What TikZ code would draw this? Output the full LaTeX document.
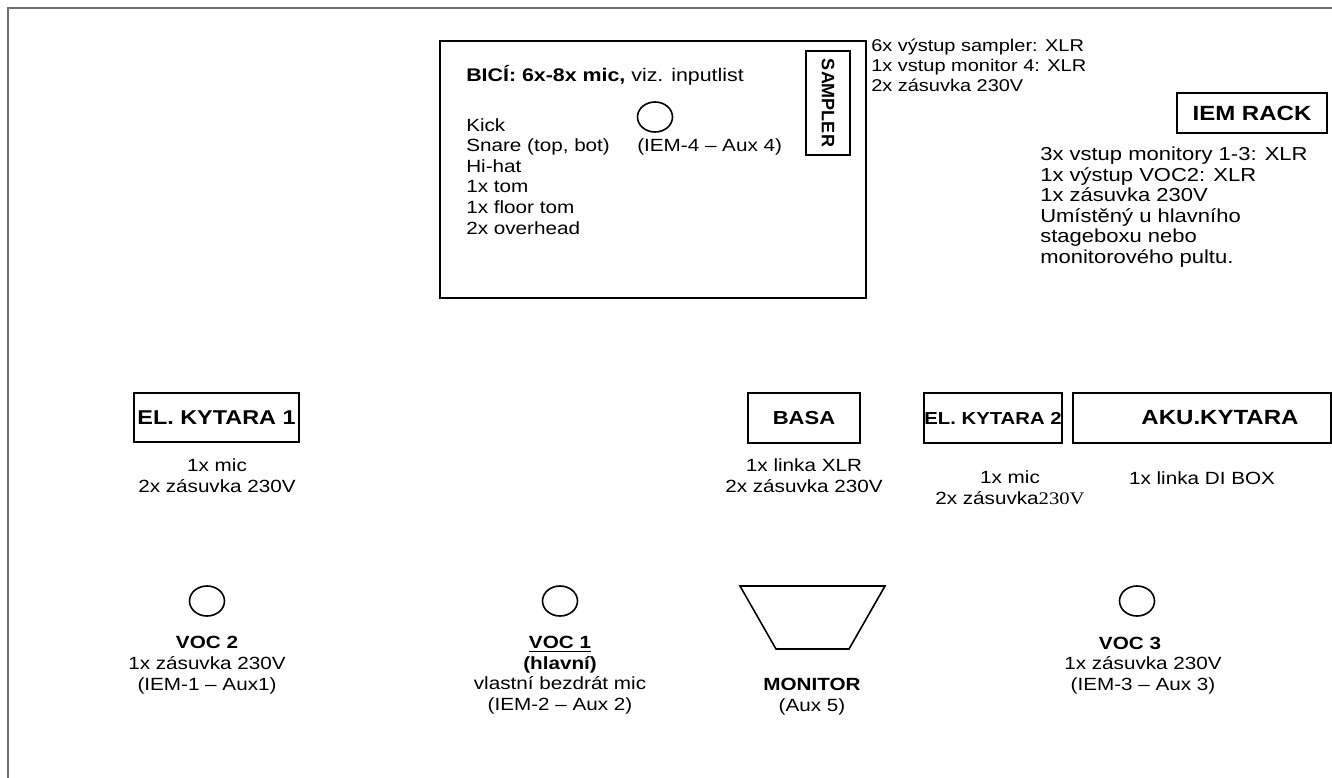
\documentclass[tikz,border=0pt]{standalone}
\usepackage{fontspec}
\setmainfont{Liberation Sans}[FakeStretch=1.17]
\newfontfamily\timesfont{Liberation Serif}[FakeStretch=1.17]
\newfontfamily\plainsans{Liberation Sans}
\usetikzlibrary{shapes.geometric}
\newdimen\px \px=0.75pt
\definecolor{framegray}{RGB}{110,110,110}
\newcommand{\fsz}[2]{\fontsize{#1}{#2}\selectfont\lineskiplimit=-10pt\relax}
\begin{document}
\begin{tikzpicture}[x=0.75pt,y=-0.75pt,
  every node/.style={font=\fsz{13.25}{15.4}, inner sep=0pt},
  box/.style={draw, line width=1.4pt, inner sep=0pt},
  mic/.style={draw, ellipse, line width=1.2pt, minimum width=35\px, minimum height=30\px},
  lbl/.style={anchor=base, align=center},
  lft/.style={anchor=base west, align=left},
  vocfont/.style={font=\fsz{13.25}{15.4}},
]
\useasboundingbox (0,0) rectangle (1332,778);
\fill[white] (0,0) rectangle (1332,778);
\draw[framegray, line width=1.5pt] (8,778) -- (8,8) -- (1332,8);

% drums
\node[box, minimum width=426\px, minimum height=257\px, anchor=north west] (drums) at (439,40) {};
\node[lft, font=\fsz{13.7}{16}] (bici) at (466,81) {\textbf{BICÍ: 6x-8x mic,} viz. inputlist};
\node[lft, font=\fsz{13.25}{15.45}] (drumlist) at (466,234) {Kick\\Snare (top, bot)\\Hi-hat\\1x tom\\1x floor tom\\2x overhead};
\node[mic] (mic4) at (655,117) {};
\node[lft] (iem4) at (637,151) {(IEM-4 – Aux 4)};
\node[box, rotate=-90, minimum width=104\px, minimum height=44\px, font=\plainsans\fsz{13.5}{13.5}\bfseries] (sampler) at (828,103) {SAMPLER};
\node[lft, font=\fsz{12.8}{15}] (samplertxt) at (871,91) {6x výstup sampler: XLR\\1x vstup monitor 4: XLR\\2x zásuvka 230V};

% IEM rack
\node[box, minimum width=150\px, minimum height=40\px, font=\fsz{15.4}{18}\bfseries] (iem) at (1252,113) {IEM RACK};
\node[lft, font=\fsz{14.1}{15.4}] (iemtxt) at (1040,263.5) {3x vstup monitory 1-3: XLR\\1x výstup VOC2: XLR\\1x zásuvka 230V\\Umístěný u hlavního\\stageboxu nebo\\monitorového pultu.};

% instruments
\node[box, minimum width=165\px, minimum height=49\px, font=\fsz{15}{17.5}\bfseries] (kyt1) at (216.5,417.5) {EL. KYTARA 1};
\node[lbl] (kyt1txt) at (217,492.5) {1x mic\\2x zásuvka 230V};
\node[box, minimum width=112\px, minimum height=50\px, font=\fsz{14.1}{16.5}\bfseries] (basa) at (804,418) {BASA};
\node[lbl] (basatxt) at (804,492.5) {1x linka XLR\\2x zásuvka 230V};
\node[box, minimum width=138\px, minimum height=50\px, font=\fsz{13}{15.2}\bfseries] (kyt2) at (993,418) {EL. KYTARA 2};
\node[lbl] (kyt2txt) at (1010,504.5) {1x mic\\2x zásuvka{\timesfont 230V}};
\node[box, minimum width=258\px, minimum height=50\px] (aku) at (1202,418) {};
\node[font=\fsz{15.4}{18}\bfseries] (akulabel) at (1220,418) {AKU.KYTARA};
\node[lbl] (akutxt) at (1202,484) {1x linka DI BOX};

% vocals
\node[mic] (voc2mic) at (207,601) {};
\node[lbl, vocfont] (voc2) at (207,690) {\textbf{VOC 2}\\1x zásuvka 230V\\(IEM-1 – Aux1)};
\node[mic] (voc1mic) at (560,601) {};
\node[lbl, vocfont] (voc1) at (560,710.5) {\textbf{\underline{VOC 1}}\\\textbf{(hlavní)}\\vlastní bezdrát mic\\(IEM-2 – Aux 2)};
\node[mic] (voc3mic) at (1137,601) {};
\node[lbl, vocfont] (voc3) at (1130,649) {\textbf{VOC 3}};
\node[lbl, vocfont] (voc3txt) at (1143,690) {1x zásuvka 230V\\(IEM-3 – Aux 3)};

% monitor
\draw[line width=1.2pt] (740,586) -- (885,586) -- (849,649) -- (776,649) -- cycle;
\node[lbl, vocfont] (mon) at (812,711.5) {\textbf{MONITOR}\\(Aux 5)};
\end{tikzpicture}
\end{document}
